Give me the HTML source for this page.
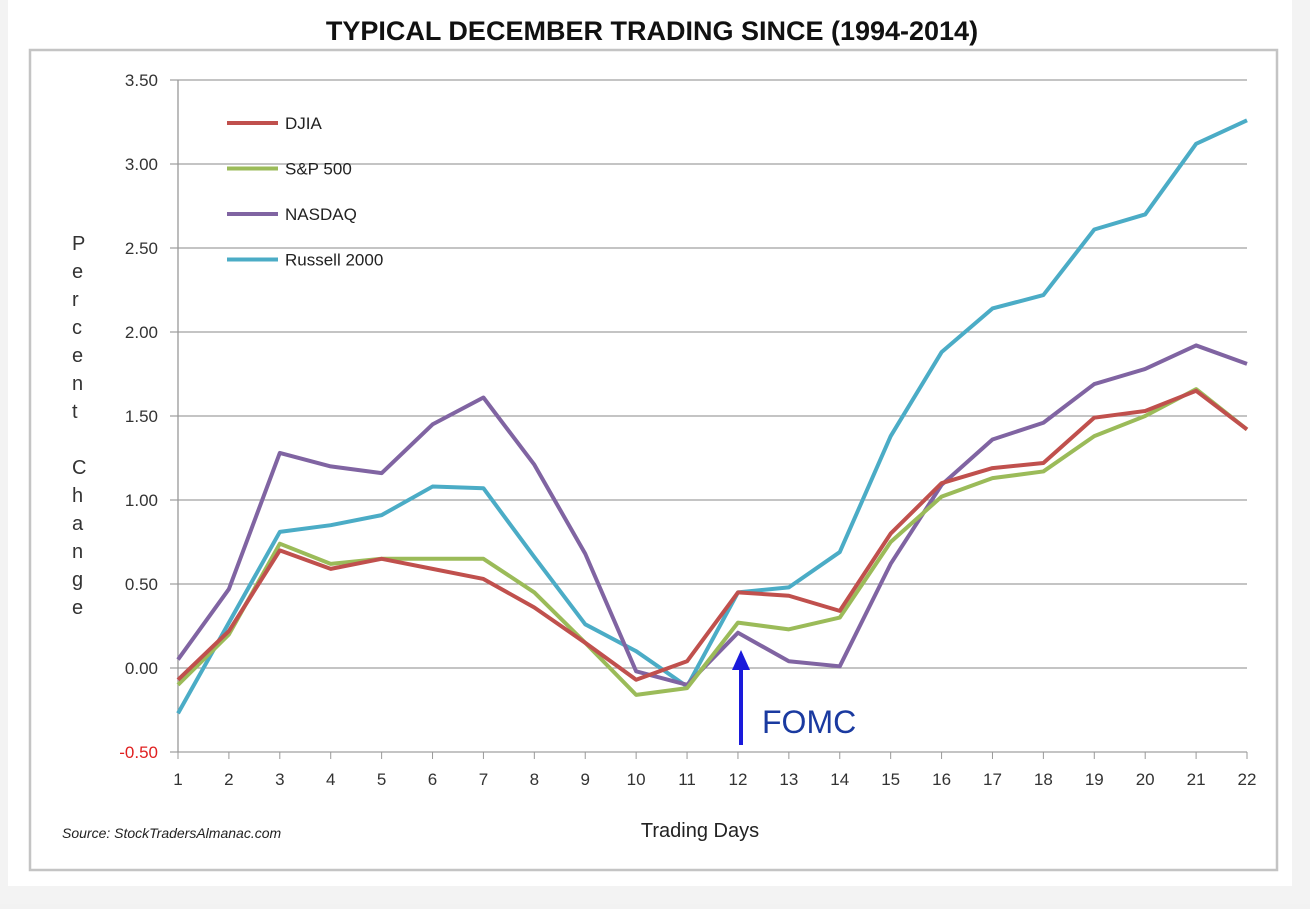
<!DOCTYPE html>
<html><head><meta charset="utf-8"><style>
body{margin:0;background:#f2f2f2;width:1310px;height:904px;overflow:hidden;font-family:"Liberation Sans",sans-serif}
</style></head><body>
<svg width="1310" height="904">
<rect x="0" y="0" width="1310" height="904" fill="#f3f3f3"/>
<rect x="8" y="0" width="1284" height="886" fill="#fff"/>
<rect x="30" y="50" width="1247" height="820" fill="#fff" stroke="#c4c4c4" stroke-width="2.5"/>
<text x="652" y="40" text-anchor="middle" font-size="27" font-weight="bold" fill="#111">TYPICAL DECEMBER TRADING SINCE (1994-2014)</text>
<g id="grid"></g><g id="axes"></g><g id="lines"></g><g id="legend"></g>
<text x="72" y="250" font-size="20" fill="#333">
<tspan x="72" dy="0">P</tspan><tspan x="72" dy="28">e</tspan><tspan x="72" dy="28">r</tspan><tspan x="72" dy="28">c</tspan><tspan x="72" dy="28">e</tspan><tspan x="72" dy="28">n</tspan><tspan x="72" dy="28">t</tspan><tspan x="72" dy="56">C</tspan><tspan x="72" dy="28">h</tspan><tspan x="72" dy="28">a</tspan><tspan x="72" dy="28">n</tspan><tspan x="72" dy="28">g</tspan><tspan x="72" dy="28">e</tspan></text>
<text x="700" y="837" text-anchor="middle" font-size="20" fill="#222">Trading  Days</text>
<text x="62" y="838" font-size="14" font-style="italic" fill="#222">Source: StockTradersAlmanac.com</text>
<g>
<line x1="741" y1="745" x2="741" y2="665" stroke="#1a1adb" stroke-width="4"/>
<polygon points="741,650 732,670 750,670" fill="#1a1adb"/>
<text x="762" y="733" font-size="32" fill="#1a3aa0">FOMC</text></g>
</svg>
<script>
const days=[1,2,3,4,5,6,7,8,9,10,11,12,13,14,15,16,17,18,19,20,21,22];
const yTicks=[-0.5,0,0.5,1,1.5,2,2.5,3,3.5];
const yTickLabels=["-0.50","0.00","0.50","1.00","1.50","2.00","2.50","3.00","3.50"];
const djia=[-0.07,0.22,0.70,0.59,0.65,0.59,0.53,0.36,0.15,-0.07,0.04,0.45,0.43,0.34,0.80,1.10,1.19,1.22,1.49,1.53,1.65,1.42];
const sp500=[-0.10,0.20,0.74,0.62,0.65,0.65,0.65,0.45,0.15,-0.16,-0.12,0.27,0.23,0.30,0.75,1.02,1.13,1.17,1.38,1.50,1.66,1.42];
const nasdaq=[0.05,0.47,1.28,1.20,1.16,1.45,1.61,1.21,0.68,-0.02,-0.10,0.21,0.04,0.01,0.62,1.09,1.36,1.46,1.69,1.78,1.92,1.81];
const russell=[-0.27,0.27,0.81,0.85,0.91,1.08,1.07,0.66,0.26,0.10,-0.11,0.45,0.48,0.69,1.38,1.88,2.14,2.22,2.61,2.70,3.12,3.26];
const seriesNames=["DJIA","S&P 500","NASDAQ","Russell 2000"];
const NS="http://www.w3.org/2000/svg";
const X=d=>178+(d-1)*(1247-178)/21;
const Y=v=>668-v*(668-80)/3.5;
function mk(t,a,p){const e=document.createElementNS(NS,t);for(const k in a)e.setAttribute(k,a[k]);p.appendChild(e);return e;}
const g=document.getElementById('grid'),ax=document.getElementById('axes'),ln=document.getElementById('lines'),lg=document.getElementById('legend');
yTicks.forEach((v,i)=>{
 const l=mk('line',{x1:170,x2:1247,y1:Y(v),y2:Y(v),stroke:'#a0a0a0','stroke-width':1.3},g);
 
 
 const t=mk('text',{x:158,y:Y(v)+6,'text-anchor':'end','font-size':17,fill:v<0?'#e02020':'#333'},ax);
 t.textContent=yTickLabels[i];
 
 
});
mk('line',{x1:178,x2:178,y1:80,y2:Y(-0.5),stroke:'#999','stroke-width':1.3},ax);
days.forEach(d=>{
 mk('line',{x1:X(d),x2:X(d),y1:Y(-0.5),y2:Y(-0.5)+7,stroke:'#999'},ax);
 const t=mk('text',{x:X(d),y:Y(-0.5)+33,'text-anchor':'middle','font-size':17,fill:'#333'},ax);
 t.textContent=d;
 
 
});
const data=[djia,sp500,nasdaq,russell];
const colors=['#c0504d','#9bbb59','#8064a2','#4bacc6'];
const keys=['djia','sp500','nasdaq','russell'];
[3,2,1,0].forEach(i=>{
 const p=mk('polyline',{points:data[i].map((v,j)=>X(days[j])+','+Y(v)).join(' '),fill:'none',stroke:colors[i],'stroke-width':4,'stroke-linejoin':'round'},ln);
 
 
});
seriesNames.forEach((n,i)=>{
 const y=123+i*45.5;
 const e=mk('g',{},lg);
 
 
 mk('line',{x1:227,x2:278,y1:y,y2:y,stroke:colors[i],'stroke-width':4},e);
 const t=mk('text',{x:285,y:y+6,'font-size':17,fill:'#222'},e);
 t.textContent=n;
});
</script>
</body></html>
